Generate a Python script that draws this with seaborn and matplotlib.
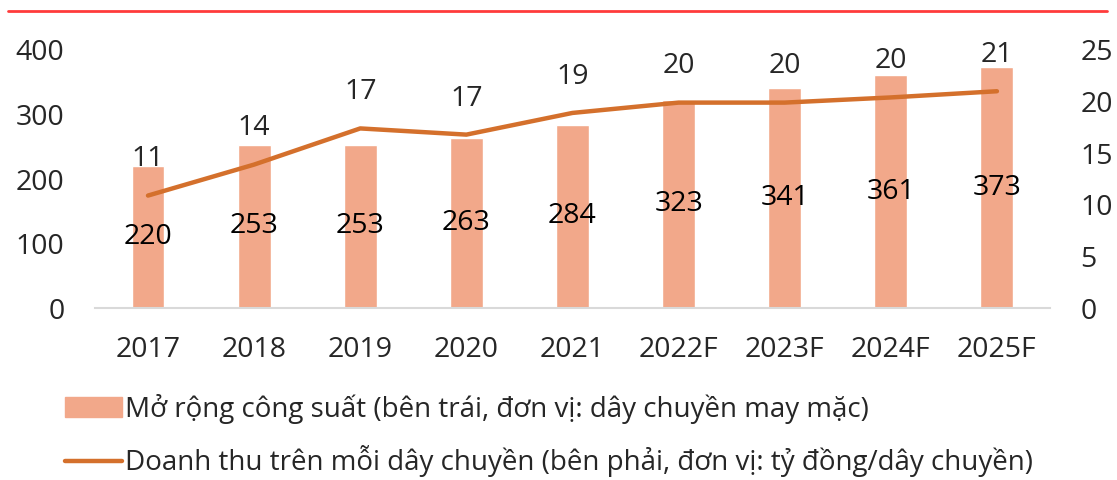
import numpy as np
import pandas as pd
import matplotlib
matplotlib.use("Agg")
import matplotlib.pyplot as plt
import seaborn as sns
from matplotlib.patches import Patch
from matplotlib.lines import Line2D

# data
years = ["2017", "2018", "2019", "2020", "2021", "2022F", "2023F", "2024F", "2025F"]
capacity = [220, 253, 253, 263, 284, 323, 341, 361, 373]
revenue_per_line = [10.9, 13.9, 17.4, 16.8, 18.9, 19.9, 19.9, 20.4, 21.0]
revenue_labels = ["11", "14", "17", "17", "19", "20", "20", "20", "21"]

bar_name = "Mở rộng công suất (bên trái, đơn vị: dây chuyền may mặc)"
line_name = "Doanh thu trên mỗi dây chuyền (bên phải, đơn vị: tỷ đồng/dây chuyền)"

bar_color = "#F2A88A"
line_color = "#D4702C"
fs = 20.5

sns.set_style("white")
plt.rcParams["font.family"] = ["Open Sans", "DejaVu Sans"]

df = pd.DataFrame({"year": years, "capacity": capacity,
                   "rev": revenue_per_line, "pos": np.arange(len(years))})

fig = plt.figure(figsize=(11.17, 4.8), dpi=100)
ax = fig.add_axes([0.085, 0.358, 0.855, 0.538])

sns.barplot(data=df, x="year", y="capacity", color=bar_color, width=0.31,
            saturation=1, ax=ax)
ax.bar_label(ax.containers[0], labels=[str(v) for v in capacity],
             label_type="center", fontsize=fs, color="black")

ax.set_ylim(0, 400)
ax.set_yticks([0, 100, 200, 300, 400])
ax.set_xlim(-0.5, 8.5)
ax.set_xlabel("")
ax.set_ylabel("")
ax.tick_params(axis="y", labelsize=fs, length=0, pad=22)
ax.tick_params(axis="x", labelsize=fs, length=0, pad=20)
for s in ["top", "right", "left"]:
    ax.spines[s].set_visible(False)
ax.spines["bottom"].set_color("#D9D9D9")
ax.spines["bottom"].set_linewidth(1.5)

ax2 = ax.twinx()
sns.lineplot(data=df, x="pos", y="rev", color=line_color, linewidth=3.2,
             ax=ax2, legend=False)
ax2.set_ylim(0, 25)
ax2.set_yticks([0, 5, 10, 15, 20, 25])
ax2.set_xlim(-0.5, 8.5)
ax2.set_ylabel("")
ax2.tick_params(axis="y", labelsize=fs, length=0, pad=22)
for s in ["top", "right", "left", "bottom"]:
    ax2.spines[s].set_visible(False)
for x, y, t in zip(df["pos"], revenue_per_line, revenue_labels):
    ax2.annotate(t, (x, y), xytext=(0, 26), textcoords="offset points",
                 ha="center", va="center", fontsize=fs)

# red rule across the top
fig.add_artist(Line2D([0.007, 0.991], [0.978, 0.978], color="#FF3B3B",
                      linewidth=2, transform=fig.transFigure))

handles = [Patch(color=bar_color), Line2D([], [], color=line_color, linewidth=3.2)]
fig.legend(handles, [bar_name, line_name], loc="upper left",
           bbox_to_anchor=(0.058, 0.18), frameon=False, fontsize=20,
           handlelength=2.05, handleheight=0.7, handletextpad=0.1,
           labelspacing=0.78, borderaxespad=0, borderpad=0)

fig.savefig("out.png", dpi=100)
